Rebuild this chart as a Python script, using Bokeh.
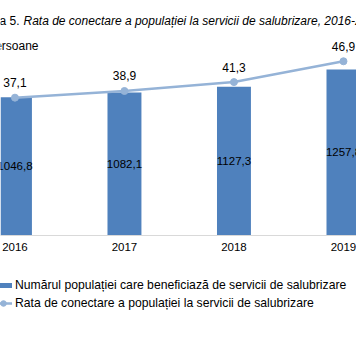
from bokeh.plotting import figure
from bokeh.models import (Range1d, FixedTicker, Legend, LegendItem,
                          Label, ColumnDataSource)
from bokeh.core.properties import value
from bokeh.embed import file_html
from bokeh.resources import INLINE

# ---- data ----
years = ["2016", "2017", "2018", "2019"]
population = [1046.8, 1082.1, 1127.3, 1257.8]   # mii persoane
rate = [37.1, 38.9, 41.3, 46.9]                 # %
pop_labels = ["1046,8", "1082,1", "1127,3", "1257,8"]
rate_labels = ["37,1", "38,9", "41,3", "46,9"]

title_prefix = "Figura 5."
title_text = "Rata de conectare a populației la servicii de salubrizare, 2016-2019"
unit_text = "mii persoane"
legend_bar = "Numărul populației care beneficiază de servicii de salubrizare"
legend_line = "Rata de conectare a populației la servicii de salubrizare"

FONT = "Liberation Sans"
BAR_COLOR = "#4F81BD"
LINE_COLOR = "#95B3D7"
FS = "11.5px"

W, H = 356, 344

xs = list(range(len(years)))
src = ColumnDataSource(dict(
    x=xs, pop=population, half=[v / 2 for v in population], rate=rate,
    pop_lab=pop_labels, rate_lab=rate_labels))

p = figure(width=W, height=H, output_backend="svg", toolbar_location=None,
           x_range=Range1d(-0.132, 3.119), y_range=Range1d(-826, 1780),
           y_axis_location=None, min_border=0)
p.extra_y_ranges = {"rate": Range1d(-29.34, 63.26)}
p.outline_line_color = None
p.grid.visible = False
p.background_fill_color = "white"
p.border_fill_color = "white"

bars = p.vbar(x="x", top="pop", bottom=0, width=0.31, source=src,
              fill_color=BAR_COLOR, line_color=None)
p.text(x="x", y="half", text="pop_lab", source=src, text_align="center",
       text_baseline="middle", text_font=value(FONT), text_font_size=FS,
       text_color="#000000")

ln = p.line(x="x", y="rate", source=src, y_range_name="rate",
            line_color=LINE_COLOR, line_width=2.5)
pts = p.scatter(x="x", y="rate", source=src, y_range_name="rate", size=7,
                fill_color=LINE_COLOR, line_color=LINE_COLOR)
p.text(x="x", y="rate", text="rate_lab", source=src, y_range_name="rate",
       text_align="center", text_baseline="middle", y_offset=-15,
       text_font=value(FONT), text_font_size="12px", text_color="#000000")

ax = p.xaxis[0]
ax.fixed_location = 0
ax.ticker = FixedTicker(ticks=xs)
ax.major_label_overrides = {i: y for i, y in zip(xs, years)}
ax.axis_line_color = "#D9D9D9"
ax.axis_line_width = 1
ax.major_tick_line_color = None
ax.minor_tick_line_color = None
ax.major_tick_out = 0
ax.major_tick_in = 0
ax.major_label_standoff = 8
ax.major_label_text_font = FONT
ax.major_label_text_font_size = FS
ax.major_label_text_color = "#000000"

# title and unit
p.add_layout(Label(x=19, y=H - 20, x_units="screen", y_units="screen",
                   text=title_prefix, text_align="right", text_baseline="middle",
                   text_font=FONT, text_font_size="12px", text_color="#000000"))
p.add_layout(Label(x=23, y=H - 20, x_units="screen", y_units="screen",
                   text=title_text, text_align="left", text_baseline="middle",
                   text_font=FONT, text_font_style="italic",
                   text_font_size="12px", text_color="#000000"))
p.add_layout(Label(x=38, y=H - 45, x_units="screen", y_units="screen",
                   text=unit_text, text_align="right", text_baseline="middle",
                   text_font=FONT, text_font_size="12px", text_color="#000000"))

# legend (swatch for the bars drawn as a short thick line, kept off-screen)
swatch = p.line(x=[-5, -4], y=[0, 0], line_color=BAR_COLOR, line_width=5,
                line_cap="butt")
legend = Legend(items=[LegendItem(label=legend_bar, renderers=[swatch]),
                       LegendItem(label=legend_line, renderers=[ln, pts])],
                location=(-6, 34), orientation="vertical",
                border_line_color=None, background_fill_alpha=0,
                padding=0, margin=0, spacing=4, glyph_width=18, glyph_height=14,
                label_height=14, label_standoff=3,
                label_text_font=FONT, label_text_font_size="12.2px",
                label_text_color="#000000")
p.add_layout(legend, "center")

open("out.html", "w").write(file_html(p, INLINE))
